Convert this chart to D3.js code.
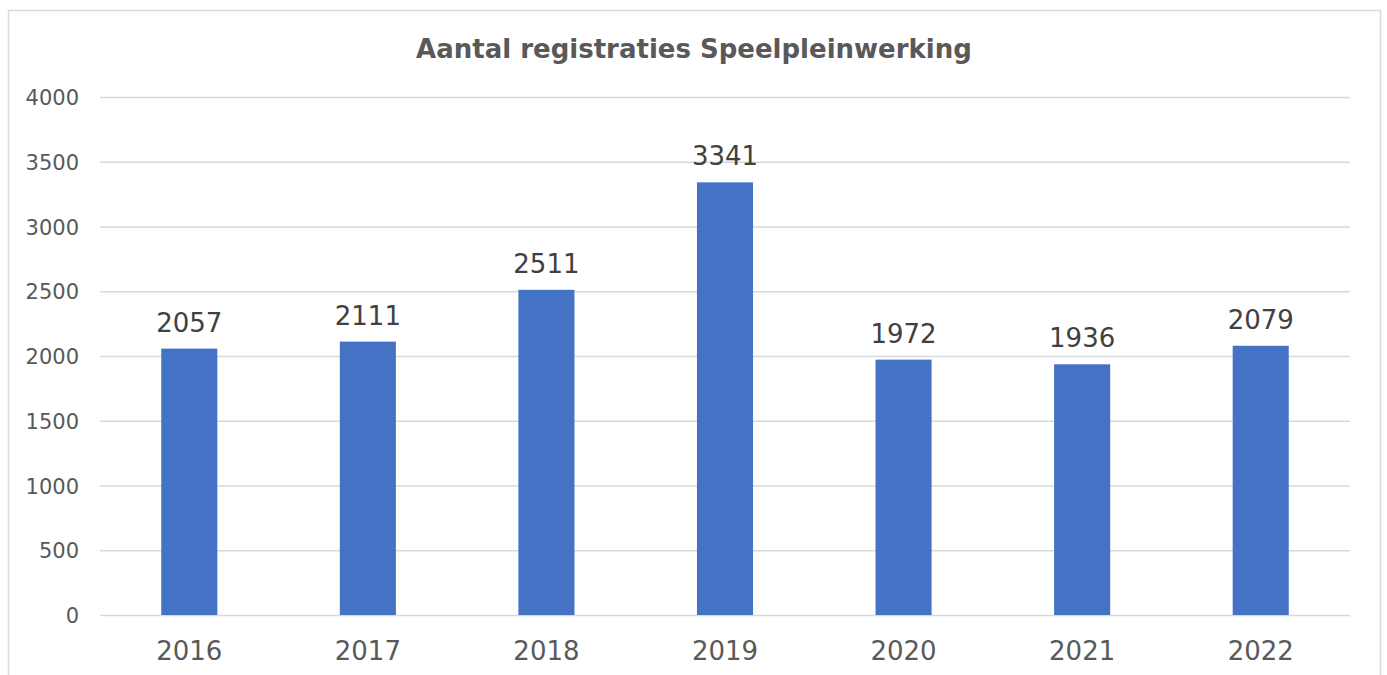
<!DOCTYPE html>
<html>
<head>
<meta charset="utf-8">
<script src="https://cdn.jsdelivr.net/npm/d3@7"></script>
<style>
  body { margin: 0; background: #fff; }
  svg { display: block; font-family: "DejaVu Sans", Verdana, sans-serif; }
</style>
</head>
<body>
<svg></svg>
<script>
// data
var years = ['2016', '2017', '2018', '2019', '2020', '2021', '2022'];
var registraties = [2057, 2111, 2511, 3341, 1972, 1936, 2079];
var yTicks = [0, 500, 1000, 1500, 2000, 2500, 3000, 3500, 4000];

var canvasWidth = 1387;
var canvasHeight = 675;
var margin = { top: 97, right: 37, bottom: 60, left: 100 };
var width = canvasWidth - margin.left - margin.right;
var height = canvasHeight - margin.top - margin.bottom;

var svg = d3.select('svg')
  .attr('width', canvasWidth)
  .attr('height', canvasHeight);

// chart border (bottom edge runs off the picture)
svg.append('rect')
  .attr('x', 8.5)
  .attr('y', 10.5)
  .attr('width', 1372)
  .attr('height', 700)
  .attr('fill', 'none')
  .attr('stroke', '#d9d9d9')
  .attr('stroke-width', 1.5);

//title
svg.append('text')
  .attr('x', 694)
  .attr('y', 58)
  .attr('text-anchor', 'middle')
  .style('font-size', '26px')
  .style('font-weight', 'bold')
  .attr('fill', '#595959')
  .text('Aantal registraties Speelpleinwerking');

var g = svg.append('g')
  .attr('transform', 'translate(' + margin.left + ',' + margin.top + ')');

var x = d3.scaleBand()
  .domain(years)
  .range([0, width])
  .paddingInner(0.686)
  .paddingOuter(0.343);

var y = d3.scaleLinear()
  .domain([0, 4000])
  .range([height, 0]);

// gridlines + y labels
var yAxis = g.append('g')
  .call(d3.axisLeft(y).tickValues(yTicks).tickFormat(d3.format('d')).tickSize(-width).tickPadding(21));
yAxis.select('.domain').remove();
yAxis.selectAll('.tick line').attr('stroke', '#d9d9d9').attr('stroke-width', 1.5);
yAxis.selectAll('.tick text')
  .attr('fill', '#595959')
  .attr('dy', '0.36em')
  .style('font-size', '21px')
  .style('font-family', '"DejaVu Sans", Verdana, sans-serif');

var xAxis = g.append('g')
  .attr('transform', 'translate(0,' + height + ')')
  .call(d3.axisBottom(x).tickSize(0).tickPadding(45));
xAxis.select('.domain').remove();
xAxis.selectAll('.tick text')
  .attr('fill', '#595959')
  .attr('dy', '0')
  .style('font-size', '26px')
  .style('font-family', '"DejaVu Sans", Verdana, sans-serif');

// bars
g.selectAll('.bar')
  .data(registraties)
  .enter()
  .append('rect')
  .attr('class', 'bar')
  .attr('x', function(d, i) { return x(years[i]); })
  .attr('y', function(d) { return y(d); })
  .attr('width', x.bandwidth())
  .attr('height', function(d) { return height - y(d); })
  .attr('fill', '#4472c4');

// value labels
g.selectAll('.label')
  .data(registraties)
  .enter()
  .append('text')
  .attr('class', 'label')
  .attr('x', function(d, i) { return x(years[i]) + x.bandwidth() / 2; })
  .attr('y', function(d) { return y(d) - 17; })
  .attr('text-anchor', 'middle')
  .attr('fill', '#404040')
  .style('font-size', '26px')
  .text(function(d) { return d; });
</script>
</body>
</html>
